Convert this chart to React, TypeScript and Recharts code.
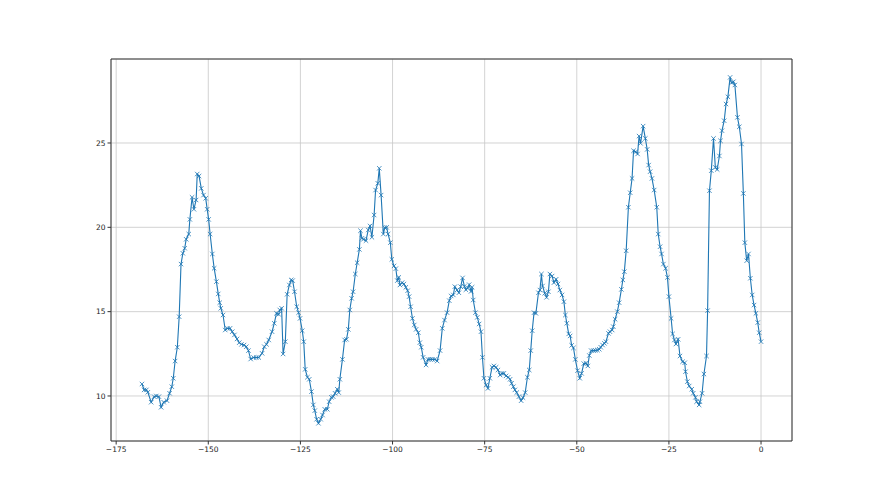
import React from "react";
import { LineChart, Line, XAxis, YAxis, CartesianGrid, ReferenceLine } from "recharts";

const xValues: number[] = [
  -168.0, -167.4, -166.8, -166.4, -165.5, -164.7, -164.1, -163.4, -162.8, -162.1, -161.2, -160.5, -159.9, -159.5, -159.0, -158.4, -157.9, -157.4, -156.9, -156.4,
  -156.0, -155.3, -155.0, -154.4, -153.9, -153.3, -153.0, -152.5, -151.9, -151.3, -150.7, -150.3, -149.9, -149.5, -148.9, -148.4, -147.8, -147.3, -146.9, -146.6,
  -146.0, -145.4, -144.8, -144.1, -143.5, -142.9, -142.2, -141.6, -141.0, -140.3, -139.7, -139.1, -138.5, -137.7, -137.0, -136.3,
  -135.4, -134.8, -134.2, -133.6, -132.7, -132.1, -131.5, -130.9, -130.6, -130.1, -129.7, -129.1, -128.6, -128.0, -127.5, -127.1, -126.6, -126.0, -125.5, -125.1,
  -124.5, -124.1, -123.7, -123.1, -122.6, -122.0, -121.5, -121.1, -120.6, -120.1, -119.5, -119.0, -118.4, -117.7, -117.2, -116.6, -116.1, -115.6, -115.0, -114.6,
  -114.3, -113.6, -113.0, -112.5, -112.0, -111.6, -111.1, -110.7, -110.1, -109.6,
  -109.0, -108.7, -108.3, -107.9, -107.2, -106.6, -106.1, -105.6, -105.0, -104.6, -104.0, -103.6, -103.1, -102.5, -102.1, -101.6, -101.2, -100.6, -100.2, -99.6,
  -99.1, -98.7, -98.3, -98.0, -97.4, -96.9, -96.4, -95.9, -95.5, -95.1, -94.6, -94.1, -93.6, -93.0, -92.6, -92.2, -91.7, -90.9, -90.4, -89.8,
  -89.2, -88.5, -87.9, -87.1, -86.5, -85.9, -85.2, -84.6, -84.1, -83.5, -83.1, -82.5, -82.0, -81.5, -81.0, -80.5, -80.1, -79.6, -79.2, -78.7, -78.4,
  -78.1, -77.5, -77.0, -76.5, -76.0, -75.6, -75.2, -74.6, -74.1, -73.6, -73.0, -72.5, -71.9, -71.4, -70.8, -70.3, -69.8, -69.2, -68.6, -68.1,
  -67.7, -67.2, -66.8, -66.3, -65.7, -65.1, -64.6, -64.0, -63.4, -62.9, -62.5, -62.1, -61.6, -61.1, -60.4, -60.0, -59.6, -59.3, -58.7, -58.2,
  -57.7, -57.3, -56.7, -56.2, -55.6, -55.1, -54.6, -54.0, -53.5, -53.1, -52.7, -52.2, -51.8,
  -51.4, -50.9, -50.4, -49.8, -49.2, -48.7, -48.1, -47.5, -47.0, -46.6,
  -46.1, -45.5, -45.0, -44.4, -43.9, -43.5, -43.0, -42.5, -42.1, -41.4, -41.0, -40.4, -40.1, -39.6, -39.0, -38.5, -37.9, -37.5, -37.1, -36.6,
  -36.0, -35.5, -35.0, -34.6, -34.0, -33.5, -33.1, -32.7, -32.0, -31.4, -30.9, -30.5, -30.1, -29.6, -29.0, -28.3, -27.9, -27.4, -27.0, -26.5,
  -25.9, -25.4, -25.0, -24.4, -24.0, -23.5, -23.1, -22.5,
  -22.0, -21.3, -20.7, -20.5, -20.0, -19.5, -18.8, -18.4, -17.8, -17.5, -16.8, -16.6, -16.0, -15.5, -14.8, -14.5, -14.0, -13.5, -12.9, -12.4,
  -11.9, -11.3, -11.0, -10.6, -10.0, -9.5, -9.0, -8.4, -8.0, -7.5, -7.1, -6.4, -5.9, -5.3, -4.8, -4.4, -3.9, -3.4, -2.9, -2.4,
  -1.9, -1.4, -0.9, -0.5, 0.0,
];

const yValues: number[] = [
  10.71, 10.36, 10.36, 10.22, 9.63, 9.96, 10.0, 9.96, 9.33, 9.63, 9.72, 10.16, 10.55, 11.05, 12.07, 12.89, 14.7, 17.82, 18.46, 18.76,
  19.29, 19.6, 20.47, 21.78, 21.07, 21.62, 23.16, 23.04, 22.31, 21.91, 21.72, 21.07, 20.47, 19.6, 18.42, 17.57, 16.78, 16.05, 15.53, 15.2,
  14.8, 13.91, 14.01, 14.01, 13.81, 13.62, 13.38, 13.16, 13.06, 13.02, 12.92, 12.69, 12.19, 12.28, 12.28, 12.28,
  12.53, 12.92, 13.06, 13.32, 13.81, 14.31, 14.9, 14.84, 15.1, 15.2, 12.49, 13.22, 16.03, 16.58, 16.88, 16.84, 16.18, 15.29, 14.94, 14.6,
  13.87, 13.22, 11.58, 11.11, 10.99, 10.26, 9.47, 9.13, 8.62, 8.38, 8.62, 8.87, 9.21, 9.21, 9.66, 9.92, 9.96, 10.16, 10.4, 10.2,
  10.99, 12.17, 13.32, 13.36, 13.95, 15.1, 15.79, 16.18, 17.23, 17.9,
  18.69, 19.8, 19.35, 19.29, 19.21, 19.84, 20.08, 19.41, 20.73, 22.21, 22.61, 23.5, 21.91, 19.6, 19.98, 20.0, 19.6, 19.09, 18.1, 17.71,
  17.55, 16.84, 17.03, 16.58, 16.72, 16.64, 16.44, 16.24, 15.89, 15.29, 14.6, 14.21, 13.95, 13.75, 13.16, 12.89, 12.29, 11.84, 12.17, 12.17,
  12.17, 12.17, 12.07, 12.69, 14.01, 14.5, 14.94, 15.65, 15.93, 15.99, 16.48, 16.28, 16.12, 16.48, 17.0, 16.5, 16.3, 16.4, 16.6, 16.2, 16.45,
  15.69, 14.94, 14.66, 14.27, 13.81, 12.29, 11.05, 10.65, 10.45, 11.05, 11.7, 11.78, 11.7, 11.54, 11.24, 11.34, 11.34, 11.19, 11.11, 10.99,
  10.75, 10.55, 10.36, 10.2, 9.96, 9.72, 9.9, 10.2, 11.11, 11.54, 12.69, 13.87, 14.94, 14.9, 16.12, 16.28, 17.23, 16.52, 16.09, 15.85,
  16.18, 17.23, 17.11, 16.72, 16.92, 16.64, 16.28, 15.99, 15.59, 14.8, 14.31, 13.68, 13.56,
  13.0, 12.85, 12.17, 11.5, 11.05, 11.34, 11.92, 11.94, 11.78, 12.4,
  12.69, 12.69, 12.7, 12.72, 12.77, 12.89, 13.02, 13.12, 13.22, 13.71, 13.81, 13.91, 14.11, 14.55, 15.0, 15.53, 16.32, 16.88, 17.37, 18.61,
  21.19, 22.05, 22.9, 24.54, 24.48, 24.35, 25.41, 24.98, 26.0, 25.27, 24.62, 23.69, 23.3, 22.9, 22.21, 21.19, 19.6, 18.85, 18.42, 17.82,
  17.57, 17.03, 15.89, 14.6, 13.68, 13.32, 13.08, 13.36,
  12.37, 12.03, 11.97, 11.44, 10.85, 10.59, 10.4, 10.16, 9.92, 9.66, 9.47, 9.66, 10.16, 11.3, 12.37, 15.06, 22.17, 23.36, 25.27, 23.55,
  23.43, 24.23, 25.13, 25.73, 26.32, 27.31, 27.74, 28.89, 28.57, 28.63, 28.44, 26.52, 25.96, 24.94, 22.01, 19.09, 18.02, 18.42, 16.98, 15.99,
  15.39, 14.9, 14.35, 13.75, 13.22,
];

const xTicks: number[] = [-175, -150, -125, -100, -75, -50, -25, 0];
const yTicks: number[] = [10, 15, 20, 25];
const xDomain: [number, number] = [-176.4, 8.4];
const yDomain: [number, number] = [7.33, 29.98];

const data = xValues.map((x, i) => ({ x, y: yValues[i] }));

const LINE_COLOR = "#1f77b4";

const renderDot = (p: any) => {
  const { cx, cy, index } = p;
  if (cx == null || cy == null) return <g key={index} />;
  const s = 2.2;
  return (
    <path
      key={index}
      d={`M${cx - s},${cy - s}L${cx + s},${cy + s}M${cx - s},${cy + s}L${cx + s},${cy - s}`}
      stroke={LINE_COLOR}
      strokeWidth={0.8}
      fill="none"
    />
  );
};

const fmt = (v: number) => String(v).replace("-", "\u2212");

const tickStyle = { fontSize: 7.5, fill: "#222", fontFamily: "DejaVu Sans" };

export default function App() {
  return (
    <div style={{ position: "absolute", left: 0, top: 0, width: 880, height: 495, background: "#fff" }}>
      <LineChart
        width={880}
        height={495}
        data={data}
        margin={{ top: 59, right: 88, bottom: 24, left: 71 }}
      >
        <CartesianGrid stroke="#c8c8c8" strokeWidth={0.8} />
        <XAxis
          dataKey="x"
          type="number"
          domain={xDomain}
          ticks={xTicks}
          tickFormatter={fmt}
          allowDataOverflow
          height={30}
          tick={tickStyle}
          tickSize={3.5}
          tickMargin={2}
          stroke="#333"
          axisLine={{ stroke: "#333", strokeWidth: 1 }}
          tickLine={{ stroke: "#333" }}
        />
        <YAxis
          dataKey="y"
          type="number"
          domain={yDomain}
          ticks={yTicks}
          tickFormatter={fmt}
          allowDataOverflow
          width={40}
          tick={tickStyle}
          tickSize={3.5}
          tickMargin={2}
          stroke="#333"
          axisLine={{ stroke: "#333", strokeWidth: 1 }}
          tickLine={{ stroke: "#333" }}
        />
        <ReferenceLine y={yDomain[1]} stroke="#333" strokeWidth={1} ifOverflow="extendDomain" />
        <ReferenceLine x={xDomain[1]} stroke="#333" strokeWidth={1} ifOverflow="extendDomain" />
        <Line
          type="linear"
          dataKey="y"
          stroke={LINE_COLOR}
          strokeWidth={1.1}
          dot={renderDot}
          activeDot={false}
          isAnimationActive={false}
        />
      </LineChart>
    </div>
  );
}
